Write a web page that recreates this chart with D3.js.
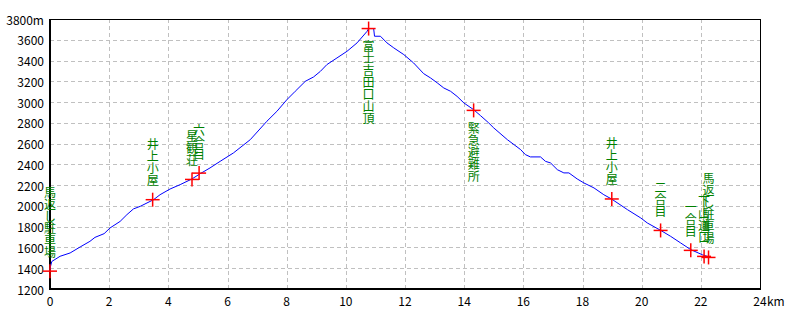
<!DOCTYPE html>
<html>
<head>
<meta charset="utf-8">
<script src="https://cdn.jsdelivr.net/npm/d3@7"></script>
<style>
  body { margin: 0; background: #fff; }
  svg { display: block; }
  text { font-family: "Noto Sans CJK JP", "DejaVu Sans", sans-serif; }
</style>
</head>
<body>
<div id="chart"></div>
<script>
// profile: distance (km) / elevation (m)
const distKm = [0, 0.02, 0.06, 0.34, 0.68, 1.02, 1.35, 1.52, 1.83, 2.03, 2.37, 2.60, 2.82, 3.05, 3.50,
  3.72, 4.06, 4.40, 4.80, 5.08, 5.41, 5.75, 6.20, 6.77, 7.33, 7.67, 8.01, 8.29, 8.63, 8.91,
  9.14, 9.36, 9.70, 10.04, 10.38, 10.72, 10.77, 10.94, 10.97, 11.17, 11.39, 11.62, 11.96, 12.29, 12.63,
  12.86, 13.09, 13.31, 13.54, 13.76, 13.99, 14.32, 14.55, 14.83, 15.00, 15.46, 15.91, 16.07, 16.24, 16.58,
  16.75, 16.92, 17.15, 17.37, 17.54, 17.82, 18.05, 18.39, 18.72, 18.98, 19.52, 19.97, 20.19, 20.64, 20.98,
  21.32, 21.66, 22.05, 22.22];
const elevM = [1375, 1420, 1465, 1515, 1547, 1605, 1659, 1697, 1733, 1788, 1851, 1916, 1971, 1996, 2060,
  2108, 2163, 2205, 2260, 2311, 2366, 2429, 2510, 2638, 2815, 2911, 3024, 3104, 3200, 3242,
  3296, 3361, 3425, 3489, 3570, 3682, 3708, 3708, 3634, 3634, 3570, 3522, 3457, 3377, 3274,
  3233, 3185, 3136, 3104, 3055, 2992, 2927, 2870, 2799, 2751, 2638, 2542, 2494, 2472, 2472,
  2429, 2414, 2349, 2318, 2318, 2260, 2221, 2173, 2108, 2067, 1964, 1884, 1836, 1765, 1707,
  1643, 1579, 1530, 1514];

// waypoints
const wpName = ["馬返し駐車場", "井上小屋", "星観荘", "六合目", "富士吉田口山頂", "緊急避難所",
  "井上小屋", "二合目", "一合目", "下山道口", "馬返し駐車場"];
const wpKm   = [0, 3.47, 4.80, 5.04, 10.77, 14.32, 18.99, 20.64, 21.66, 22.11, 22.26];
const wpElev = [1372, 2060, 2255, 2316, 3708, 2920, 2067, 1764, 1572, 1514, 1504];
const labelsBelow = ["富士吉田口山頂", "緊急避難所"];

const xTicks = [0, 2, 4, 6, 8, 10, 12, 14, 16, 18, 20, 22, 24];
const yTicks = [1200, 1400, 1600, 1800, 2000, 2200, 2400, 2600, 2800, 3000, 3200, 3400, 3600, 3800];

const W = 800, H = 320;
const m = { l: 50, r: 40, t: 19, b: 31 };

const svg = d3.select("#chart").append("svg").attr("width", W).attr("height", H);

const x = d3.scaleLinear().domain([0, 24]).range([m.l, W - m.r]);
const y = d3.scaleLinear().domain([1200, 3800]).range([H - m.b, m.t]);

// grid
svg.append("g").selectAll("line").data(xTicks.slice(1, -1)).join("line")
  .attr("x1", d => Math.round(x(d)) + 0.5).attr("x2", d => Math.round(x(d)) + 0.5)
  .attr("y1", m.t).attr("y2", H - m.b)
  .attr("stroke", "#c0c0c0").attr("stroke-dasharray", "4,3");
svg.append("g").selectAll("line").data(yTicks.slice(1, -1)).join("line")
  .attr("y1", d => Math.round(y(d)) + 0.5).attr("y2", d => Math.round(y(d)) + 0.5)
  .attr("x1", m.l).attr("x2", W - m.r)
  .attr("stroke", "#c0c0c0").attr("stroke-dasharray", "4,3");

// frame
svg.append("rect")
  .attr("x", m.l + 0.5).attr("y", m.t + 0.5)
  .attr("width", W - m.l - m.r).attr("height", H - m.t - m.b)
  .attr("fill", "none").attr("stroke", "#000").attr("stroke-width", 1);
svg.append("line").attr("x1", m.l).attr("x2", m.l).attr("y1", m.t).attr("y2", H - m.b + 1)
  .attr("stroke", "#000").attr("stroke-width", 2);
svg.append("line").attr("x1", m.l - 1).attr("x2", W - m.r + 1).attr("y1", H - m.b).attr("y2", H - m.b)
  .attr("stroke", "#000").attr("stroke-width", 2);

// tick labels
svg.append("g").selectAll("text").data(yTicks).join("text")
  .attr("x", m.l - 6).attr("y", d => y(d))
  .attr("text-anchor", "end").attr("dominant-baseline", "central")
  .attr("font-size", 12).attr("fill", "#000")
  .text((d, i) => i === yTicks.length - 1 ? d + "m" : d);
const xt = svg.append("g").selectAll("text").data(xTicks).join("text")
  .attr("x", d => x(d)).attr("y", H - m.b + 11)
  .attr("text-anchor", "middle").attr("dominant-baseline", "central")
  .attr("font-size", 12).attr("fill", "#000")
  .text(d => d);
svg.append("text").attr("x", x(24) + 7).attr("y", H - m.b + 11)
  .attr("dominant-baseline", "central").attr("font-size", 12).attr("fill", "#000")
  .text("km");

// profile line
const pts = distKm.map((d, i) => [d, elevM[i]]);
svg.append("path")
  .attr("d", d3.line().x(d => x(d[0])).y(d => y(d[1]))(pts))
  .attr("fill", "none").attr("stroke", "#0000ff").attr("stroke-width", 1);

// waypoint labels (vertical text)
const cell = 12;
wpName.forEach((name, i) => {
  const cx = x(wpKm[i]), cy = y(wpElev[i]);
  const chars = Array.from(name);
  const below = labelsBelow.includes(name);
  const top = below ? cy + 11 : cy - 14 - chars.length * cell;
  svg.append("g").selectAll("text").data(chars).join("text")
    .attr("x", cx).attr("y", (c, j) => top + j * cell + cell / 2)
    .attr("text-anchor", "middle").attr("dominant-baseline", "central")
    .attr("font-size", 12).attr("fill", "#008000")
    .text(c => c);
});

// waypoint markers
const mk = svg.append("g").attr("stroke", "#ff0000").attr("stroke-width", 1.5);
wpKm.forEach((k, i) => {
  const cx = x(k), cy = y(wpElev[i]);
  mk.append("line").attr("x1", cx - 7).attr("x2", cx + 7).attr("y1", cy).attr("y2", cy);
  mk.append("line").attr("x1", cx).attr("x2", cx).attr("y1", cy - 7).attr("y2", cy + 7);
});
</script>
</body>
</html>
